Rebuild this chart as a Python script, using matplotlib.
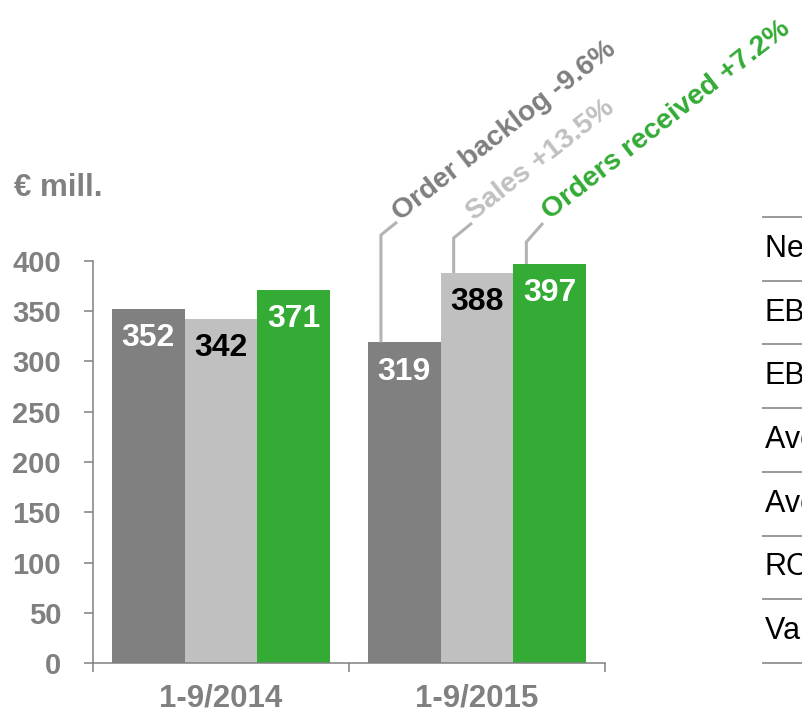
import matplotlib
matplotlib.use("Agg")
import matplotlib.pyplot as plt
import numpy as np

plt.rcParams['font.family'] = ['Liberation Sans', 'DejaVu Sans']

# ---- data ----
periods = ["1-9/2014", "1-9/2015"]
series_names = ["Order backlog", "Sales", "Orders received"]
order_backlog = [352, 319]
sales = [342, 388]
orders_received = [371, 397]
changes = ["Order backlog -9.6%", "Sales +13.5%", "Orders received +7.2%"]
yticks = [0, 50, 100, 150, 200, 250, 300, 350, 400]
table_rows = ["Net sales", "EBITDA", "EBIT", "Average capital employed",
              "Average personnel", "ROCE", "Value added"]

colors = ["#808080", "#c0c0c0", "#33ab35"]
label_colors = ["white", "black", "white"]
text_gray = "#808080"

W, H = 803, 713
fig = plt.figure(figsize=(W / 100, H / 100), dpi=100)
ax = fig.add_axes([93 / W, 50 / H, 512 / W, 402 / H])

x = np.arange(len(periods))
bw = 0.284
offsets = [-bw, 0, bw]
all_series = [order_backlog, sales, orders_received]
for s, vals in enumerate(all_series):
    bars = ax.bar(x + offsets[s], vals, width=bw, color=colors[s],
                  linewidth=0, zorder=2)
    for b, v in zip(bars, vals):
        ax.annotate(f"{v}", (b.get_x() + b.get_width() / 2, v),
                    xytext=(0, -21), textcoords="offset points",
                    ha="center", va="center", fontsize=23,
                    fontweight="bold", color=label_colors[s])

ax.set_xlim(-0.5, 1.5)
ax.set_ylim(0, 400)
ax.set_yticks(yticks)
ax.set_yticklabels([str(t) for t in yticks])
ax.set_xticks(x)
ax.set_xticklabels(periods)
ax.set_xticks([-0.5, 0.5, 1.5], minor=True)
ax.tick_params(axis="x", which="major", length=0, pad=15, labelsize=22.5,
               labelcolor=text_gray)
ax.tick_params(axis="x", which="minor", length=6.5, width=1.1,
               color=text_gray, direction="out")
ax.tick_params(axis="y", length=6.5, width=1.1, color=text_gray,
               direction="out", pad=16.5, labelsize=21, labelcolor=text_gray)
for lab in ax.get_xticklabels() + ax.get_yticklabels():
    lab.set_fontweight("bold")
for sp in ["top", "right"]:
    ax.spines[sp].set_visible(False)
for sp in ["left", "bottom"]:
    ax.spines[sp].set_color(text_gray)
    ax.spines[sp].set_linewidth(1.1)

# leader lines and rotated change labels for 2015 bars
line_color = "#b3b3b3"
lead_dx = 13          # pixels from bar's left edge to vertical leader
elbows = [235, 238, 242]                 # pixel y of elbow (from top)
ends = [(397, 222), (472, 223), (543, 223)]
text_starts = [(400, 221), (474, 221), (550, 220)]
rotations = [38, 38, 38]
text_colors = ["#7f7f7f", "#c0c0c0", "#33ab35"]
for s, vals in enumerate(all_series):
    xleft = 1 + offsets[s] - bw / 2
    xl, ytop = ax.transData.transform((xleft, vals[1]))
    xpix = xl + lead_dx
    ex, ey = ends[s][0], H - ends[s][1]
    fig.add_artist(plt.Line2D([xpix, xpix, ex], [ytop, H - elbows[s], ey],
                              transform=None, color=line_color, lw=2.2,
                              solid_capstyle="butt", solid_joinstyle="miter"))
    tx, ty = text_starts[s]
    fig.text(tx / W, (H - ty) / H, changes[s], rotation=rotations[s],
             rotation_mode="anchor", ha="left", va="baseline",
             fontsize=20.5, fontweight="bold", color=text_colors[s])

# unit label
fig.text(14 / W, (H - 188) / H, "€ mill.", ha="left", va="center",
         fontsize=22.5, fontweight="bold", color=text_gray)

# partial table at right edge
row_h = 63.7
top_line = 217
for i in range(len(table_rows) + 1):
    yy = H - (top_line + i * row_h)
    fig.add_artist(plt.Line2D([763, W + 5], [yy, yy], transform=None,
                              color="#999999", lw=1.4))
for i, name in enumerate(table_rows):
    yy = H - (top_line + (i + 0.5) * row_h)
    fig.text(765 / W, yy / H, name, ha="left", va="center",
             fontsize=22, color="black")

fig.savefig("out.png", dpi=100)
